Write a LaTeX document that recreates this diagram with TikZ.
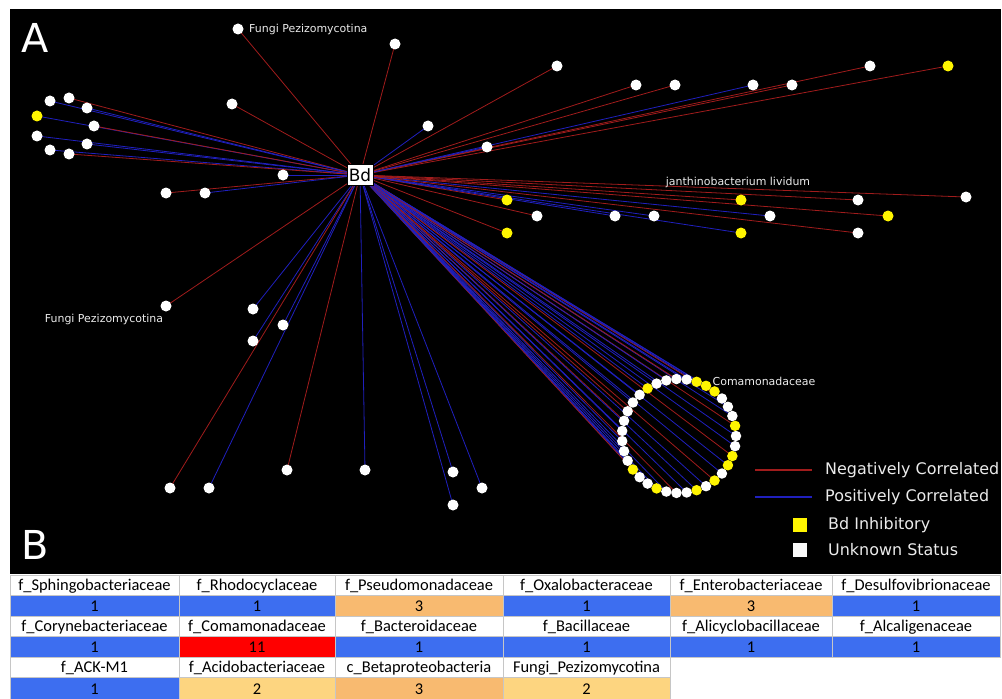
\documentclass[tikz,border=0pt]{standalone}
\usepackage{fontspec}
\setmainfont{DejaVu Sans}
\newfontfamily\tabfont{Carlito}
\definecolor{negc}{RGB}{160,28,28}
\definecolor{posc}{RGB}{32,32,190}
\definecolor{cblue}{RGB}{61,110,240}
\definecolor{corange}{RGB}{248,186,112}
\definecolor{clight}{RGB}{253,213,128}
\definecolor{cred}{RGB}{255,0,0}
\definecolor{nyellow}{RGB}{255,245,0}
\pgfdeclarelayer{bg}\pgfdeclarelayer{edges}\pgfsetlayers{bg,edges,main}
\def\nodelist{tla/50/101/white/posc, tlb/69/98/white/negc, tlc/87/108/white/posc, tld/37/116/nyellow/posc, tle/94/126/white/negc, tlf/37/136/white/posc, tlg/87/144/white/posc, tlh/50/150/white/posc, tli/69/154/white/negc, fa/238/29/white/negc, ta/395/44/white/negc, tb/232/104/white/negc, la/283/175/white/posc, lb/166/193/white/negc, lc/205/193/white/posc, ua/557/66/white/negc, ub/636/85/white/negc, uc/675/85/white/negc, ud/753/85/white/posc, ue/792/85/white/negc, uf/870/66/white/negc, ug/948/66/nyellow/negc, uh/428/126/white/posc, ui/487/147/white/posc, ra/507/200/nyellow/negc, rb/537/216/white/negc, rc/507/233/nyellow/negc, rd/615/216/white/posc, re/654/216/white/posc, rf/741/200/nyellow/negc, rg/741/233/nyellow/posc, rh/770/216/white/posc, ri/858/200/white/negc, rj/858/233/white/negc, rk/888/216/nyellow/negc, rl/966/197/white/negc, ba/166/306/white/negc, bb/253/309/white/posc, bc/283/325/white/posc, bd/253/341/white/posc, be/170/488/white/negc, bf/209/488/white/posc, bg/287/470/white/negc, bh/365/470/white/posc, bi/453/472/white/posc, bj/482/488/white/posc, bk/453/505/white/posc}
\def\circlelist{0/white/posc, 1/nyellow/negc, 2/white/posc, 3/white/posc, 4/white/negc, 5/nyellow/posc, 6/nyellow/posc, 7/nyellow/posc, 8/white/posc, 9/white/negc, 10/white/posc, 11/white/posc, 12/nyellow/posc, 13/white/posc, 14/white/posc, 15/white/negc, 16/white/negc, 17/white/posc, 18/white/posc, 19/white/posc, 20/white/posc, 21/nyellow/posc, 22/white/negc, 23/white/posc, 24/nyellow/posc, 25/white/posc, 26/white/negc, 27/white/posc, 28/nyellow/posc, 29/white/posc, 30/nyellow/negc, 31/white/posc, 32/nyellow/posc, 33/nyellow/negc, 34/white/posc}
\newcommand\tcell[7]{%
  \fill[#6] (#2,#4) rectangle (#3,#5);
  \draw[gray!45,line width=0.5bp] (#2,#4) rectangle (#3,#5);
  \node[ttext] (#1) at ({(#2+#3)/2},{(#4+#5)/2+1}) {#7};}
\begin{document}
\begin{tikzpicture}[x=1bp,y=-1bp,
  gnode/.style={circle,inner sep=0pt,minimum size=11bp},
  cnode/.style={circle,inner sep=0pt,minimum size=10.5bp},
  edge/.style={line width=0.8bp},
  lbl/.style={text=white!92!black,font=\fontsize{11}{12}\selectfont,inner sep=0pt},
  leg/.style={text=white!92!black,font=\fontsize{16}{18}\selectfont,inner sep=0pt,anchor=west},
  big/.style={text=white,font=\fontsize{40}{44}\selectfont,inner sep=0pt},
  ttext/.style={font=\tabfont\fontsize{16.5}{18}\selectfont,inner sep=0pt,text=black}]
\useasboundingbox (0,0) rectangle (1002,699);
\begin{pgfonlayer}{bg}
\fill[white] (0,0) rectangle (1002,699);
\fill[black] (10,9) rectangle (1001,574);
\end{pgfonlayer}
% hub
\node[draw=black,fill=white,inner sep=2bp,minimum height=21bp,font=\fontsize{17}{18}\selectfont] (Bd) at (360,175) {Bd};
% nodes
\foreach \n/\x/\y/\f/\e in \nodelist {\node[gnode,fill=\f] (\n) at (\x,\y) {};}
\foreach \k/\f/\e in \circlelist {\node[cnode,fill=\f] (c\k) at ({679+57*cos(\k*360/35)},{436-57*sin(\k*360/35)}) {};}
\begin{pgfonlayer}{edges}
\foreach \n/\x/\y/\f/\e in \nodelist {\draw[edge,\e] (Bd.center) -- (\n.center);}
\foreach \k/\f/\e in \circlelist {\draw[edge,\e] (Bd.center) -- (c\k.center);}
\end{pgfonlayer}
% labels
\node[lbl,anchor=west] (lfa) at (249,29) {Fungi Pezizomycotina};
\node[lbl] (lfb) at (104,319) {Fungi Pezizomycotina};
\node[lbl] (ljl) at (738,182) {janthinobacterium lividum};
\node[lbl] (lco) at (764,381) {Comamonadaceae};
\node[big] (pa) at (35,38) {A};
\node[big] (pb) at (35,545) {B};
% legend
\coordinate (ln1) at (755,470); \coordinate (ln2) at (812,470);
\coordinate (lp1) at (755,497); \coordinate (lp2) at (812,497);
\draw[negc,line width=1.2bp] (ln1) -- (ln2);
\draw[posc,line width=1.2bp] (lp1) -- (lp2);
\node[leg] (tneg) at (825,470) {Negatively Correlated};
\node[leg] (tpos) at (825,497) {Positively Correlated};
\node[fill=nyellow,minimum size=14bp,inner sep=0pt] (sy) at (800,525) {};
\node[fill=white!95!gray,minimum size=14bp,inner sep=0pt] (sw) at (800,550) {};
\node[leg] (tinh) at (828,525) {Bd Inhibitory};
\node[leg] (tunk) at (828,550) {Unknown Status};
% table
\tcell{h11}{10}{179}{575}{595}{white}{f\_Sphingobacteriaceae}
\tcell{h12}{179}{335}{575}{595}{white}{f\_Rhodocyclaceae}
\tcell{h13}{335}{503}{575}{595}{white}{f\_Pseudomonadaceae}
\tcell{h14}{503}{670}{575}{595}{white}{f\_Oxalobacteraceae}
\tcell{h15}{670}{832}{575}{595}{white}{f\_Enterobacteriaceae}
\tcell{h16}{832}{1000}{575}{595}{white}{f\_Desulfovibrionaceae}
\tcell{v11}{10}{179}{595}{616}{cblue}{1}
\tcell{v12}{179}{335}{595}{616}{cblue}{1}
\tcell{v13}{335}{503}{595}{616}{corange}{3}
\tcell{v14}{503}{670}{595}{616}{cblue}{1}
\tcell{v15}{670}{832}{595}{616}{corange}{3}
\tcell{v16}{832}{1000}{595}{616}{cblue}{1}
\tcell{h21}{10}{179}{616}{636}{white}{f\_Corynebacteriaceae}
\tcell{h22}{179}{335}{616}{636}{white}{f\_Comamonadaceae}
\tcell{h23}{335}{503}{616}{636}{white}{f\_Bacteroidaceae}
\tcell{h24}{503}{670}{616}{636}{white}{f\_Bacillaceae}
\tcell{h25}{670}{832}{616}{636}{white}{f\_Alicyclobacillaceae}
\tcell{h26}{832}{1000}{616}{636}{white}{f\_Alcaligenaceae}
\tcell{v21}{10}{179}{636}{657}{cblue}{1}
\tcell{v22}{179}{335}{636}{657}{cred}{11}
\tcell{v23}{335}{503}{636}{657}{cblue}{1}
\tcell{v24}{503}{670}{636}{657}{cblue}{1}
\tcell{v25}{670}{832}{636}{657}{cblue}{1}
\tcell{v26}{832}{1000}{636}{657}{cblue}{1}
\tcell{h31}{10}{179}{657}{677}{white}{f\_ACK-M1}
\tcell{h32}{179}{335}{657}{677}{white}{f\_Acidobacteriaceae}
\tcell{h33}{335}{503}{657}{677}{white}{c\_Betaproteobacteria}
\tcell{h34}{503}{670}{657}{677}{white}{Fungi\_Pezizomycotina}
\tcell{v31}{10}{179}{677}{699}{cblue}{1}
\tcell{v32}{179}{335}{677}{699}{clight}{2}
\tcell{v33}{335}{503}{677}{699}{corange}{3}
\tcell{v34}{503}{670}{677}{699}{clight}{2}
\end{tikzpicture}
\end{document}
